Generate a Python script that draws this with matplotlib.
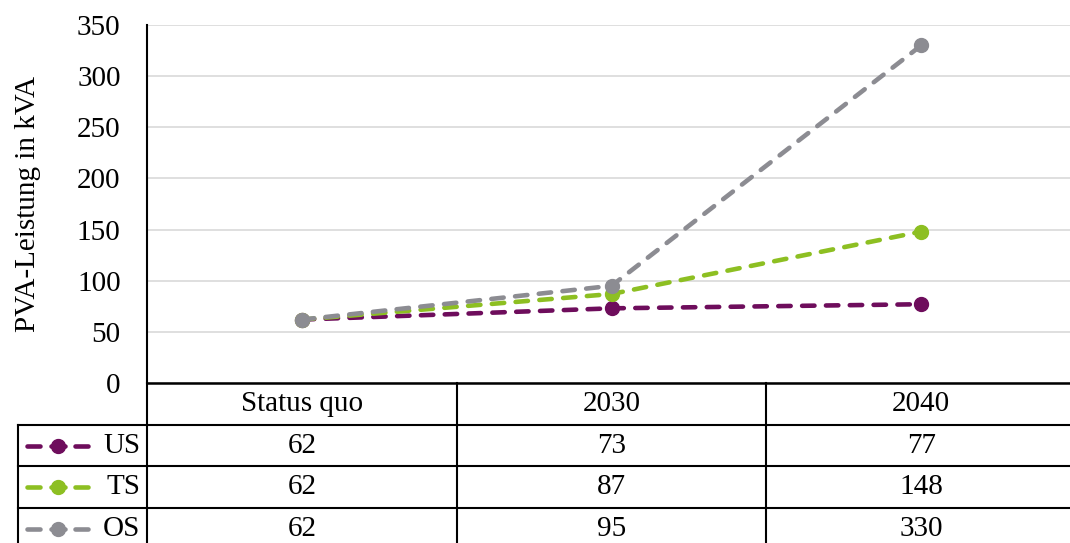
import matplotlib.pyplot as plt
from matplotlib.lines import Line2D
from matplotlib.transforms import blended_transform_factory

categories = ['Status quo', '2030', '2040']
series_names = ['US', 'TS', 'OS']
us = [62, 73, 77]
ts = [62, 87, 148]
os_ = [62, 95, 330]
colors = ['#6e0d5c', '#8dbf22', '#8c8c92']
yticks = [0, 50, 100, 150, 200, 250, 300, 350]

plt.rcParams['font.family'] = ['Liberation Serif', 'DejaVu Serif']
FS = 21

W, H = 1070, 543
fig = plt.figure(figsize=(W / 100, H / 100), dpi=100)

# layout in pixels
ax_left, ax_right, ax_top, ax_bottom = 147, 1076, 25, 383
row_h = 41.7
leg_left = 18
LW = 3.3

ax = fig.add_axes([ax_left / W, 1 - ax_bottom / H, (ax_right - ax_left) / W, (ax_bottom - ax_top) / H])

x = range(len(categories))
for vals, c in zip([us, ts, os_], colors):
    ax.plot(x, vals, color=c, lw=LW, ls=(0, (2.7, 2.5)), marker='o', ms=10,
            dash_capstyle='round', solid_capstyle='round')

ax.set_xlim(-0.5, 2.5)
ax.set_ylim(0, 350)
ax.set_yticks(yticks)
ax.set_xticks([])
ax.grid(axis='y', color='#d9d9d9', lw=1.2)
ax.set_axisbelow(True)
for s in ['top', 'right']:
    ax.spines[s].set_visible(False)
ax.spines['left'].set_linewidth(1.5)
ax.spines['bottom'].set_linewidth(1.8)
ax.tick_params(axis='y', length=0, pad=19, labelsize=FS)
ax.set_ylabel('PVA-Leistung in kVA', fontsize=FS, labelpad=26)


def fy(py):
    return 1 - py / H


def fx(px):
    return px / W


tr = blended_transform_factory(ax.transData, fig.transFigure)
lw = 1.5

# table lines
rows_y = [ax_bottom + row_h * i for i in range(5)]
for i in [1, 2, 3, 4]:
    fig.add_artist(Line2D([fx(leg_left), 1], [fy(rows_y[i])] * 2, color='black', lw=lw))
fig.add_artist(Line2D([fx(ax_left)] * 2, [fy(ax_bottom), 0], color='black', lw=lw))
fig.add_artist(Line2D([fx(leg_left)] * 2, [fy(rows_y[1]), 0], color='black', lw=lw))
for b in [0.5, 1.5]:
    fig.add_artist(Line2D([b, b], [fy(ax_bottom), 0], color='black', lw=lw, transform=tr))

# header
for i, cat in enumerate(categories):
    fig.text(i, fy((rows_y[0] + rows_y[1]) / 2), cat, transform=tr, ha='center', va='center', fontsize=FS)

# rows with legend keys
for r, (name, vals, c) in enumerate(zip(series_names, [us, ts, os_], colors)):
    yc = fy((rows_y[r + 1] + rows_y[r + 2]) / 2)
    for i, v in enumerate(vals):
        fig.text(i, yc, str(v), transform=tr, ha='center', va='center', fontsize=FS)
    for a, b in [(27, 40), (51, 65), (75, 88)]:
        fig.add_artist(Line2D([fx(a), fx(b)], [yc, yc], color=c, lw=LW, solid_capstyle='round'))
    fig.add_artist(Line2D([fx(58)], [yc], color=c, marker='o', ms=10, ls='none'))
    fig.text(fx(140), yc, name, ha='right', va='center', fontsize=FS)

fig.savefig('out.png', dpi=100)
